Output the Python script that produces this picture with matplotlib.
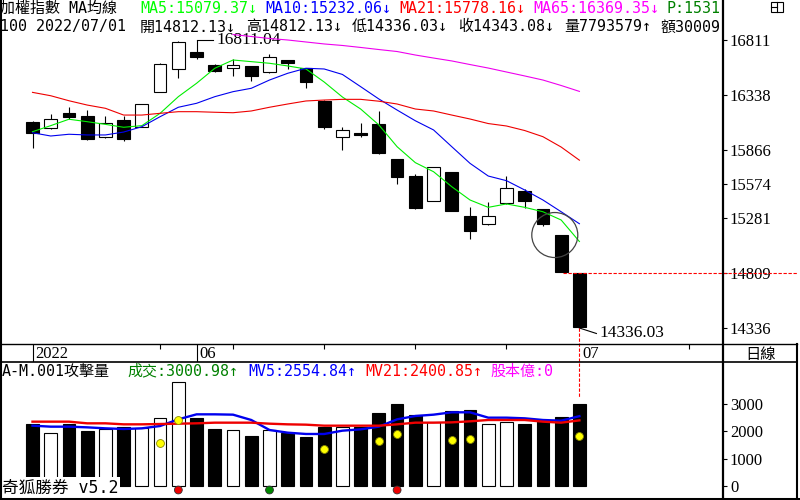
import matplotlib
matplotlib.use("Agg")
import matplotlib.pyplot as plt
from matplotlib.patches import Ellipse, Rectangle

plt.rcParams['font.family'] = ['DejaVu Sans Mono', 'Noto Sans CJK TC']
NUM_FONT = ['Liberation Serif', 'DejaVu Serif']

# ---- values, one entry per trading day (last = 2022/07/01) ----
opens = [16109, 16057, 16184, 16158, 15980, 16123, 16066, 16367, 16559, 16708,
         16596, 16568, 16588, 16533, 16639, 16568, 16289, 15975, 16012, 16089,
         15788, 15642, 15427, 15677, 15298, 15227, 15408, 15513, 15359, 15135, 14812.13]
highs = [16112, 16175, 16238, 16209, 16158, 16158, 16265, 16610, 16800, 16811.04,
         16605, 16645, 16590, 16691, 16642, 16570, 16292, 16061, 16095, 16201,
         15790, 15659, 15720, 15680, 15373, 15416, 15642, 15528, 15362, 15138, 14812.13]
lows = [15885, 16046, 16130, 15955, 15971, 15946, 16062, 16362, 16487, 16645,
        16540, 16504, 16461, 16530, 16559, 16401, 16046, 15866, 15980, 15835,
        15571, 15362, 15424, 15340, 15098, 15224, 15405, 15370, 15215, 14818, 14336.03]
closes = [16014, 16130, 16152, 15958, 16095, 15963, 16261, 16605, 16796, 16667,
          16547, 16596, 16504, 16665, 16616, 16453, 16066, 16038, 15995, 15837,
          15636, 15365, 15717, 15344, 15172, 15296, 15537, 15430, 15232, 14820, 14343.08]

ma5 = [16023, 16075, 16130, 16109, 16086, 16061, 16075, 16181, 16324, 16439,
       16568, 16639, 16625, 16611, 16588, 16562, 16450, 16321, 16218, 16081,
       15894, 15757, 15679, 15550, 15436, 15373, 15402, 15373, 15335, 15264, 15079.37]
ma10 = [16014, 15986, 16001, 15995, 15995, 16020, 16066, 16152, 16233, 16267,
        16324, 16367, 16396, 16467, 16525, 16568, 16562, 16515, 16410, 16304,
        16209, 16117, 16038, 15894, 15751, 15642, 15602, 15522, 15436, 15335, 15232.06]
ma21 = [16361, 16332, 16289, 16252, 16224, 16166, 16166, 16181, 16195, 16195,
        16190, 16186, 16201, 16233, 16261, 16287, 16295, 16301, 16301, 16285,
        16261, 16218, 16201, 16166, 16132, 16093, 16072, 16033, 15980, 15891, 15778.16]
ma65_from = 11   # earlier part is hidden under the header
ma65 = [16858, 16841, 16824, 16811, 16794, 16777, 16764, 16747, 16729, 16712,
        16682, 16656, 16631, 16600, 16570, 16536, 16502, 16467, 16420, 16369.35]

volume = [2268, 1927, 2268, 2012, 2085, 2171, 2134, 2476, 3794, 2476,
          2085, 2037, 1830, 2037, 1927, 1793, 2171, 2171, 2171, 2671,
          3000, 2598, 2329, 2744, 2781, 2268, 2329, 2268, 2415, 2525, 3000.98]
mv5 = [2207, 2171, 2171, 2146, 2110, 2085, 2110, 2195, 2439, 2622,
       2622, 2610, 2415, 2049, 1951, 1903, 1903, 2024, 2073, 2171,
       2439, 2561, 2610, 2696, 2696, 2500, 2500, 2476, 2415, 2390, 2554.84]
mv21 = [2354, 2354, 2354, 2293, 2293, 2256, 2256, 2268, 2280, 2293,
        2317, 2317, 2317, 2280, 2256, 2244, 2207, 2207, 2207, 2207,
        2256, 2317, 2317, 2329, 2366, 2415, 2415, 2415, 2354, 2317, 2400.85]
dot_idx = [7, 8, 16, 19, 20, 23, 24, 30]
dot_val = [1562, 2415, 1354, 1661, 1903, 1683, 1720, 1830]
mark_idx = [8, 13, 20]
mark_col = ['#ee0000', '#008800', '#ee0000']
mark_val = -146

month_idx = [0, 9, 30]
month_lab = ['2022', '06', '07']
week_idx = [7, 11, 16, 21, 26, 36]
price_ticks = [16811, 16338, 15866, 15574, 15281, 14809, 14336]
vol_ticks = [0, 1000, 2000, 3000]

hdr1 = [("加權指數 MA均線", "black", 0), ("MA5:15079.37↓", "#00ff00", 140),
        ("MA10:15232.06↓", "blue", 265), ("MA21:15778.16↓", "red", 399),
        ("MA65:16369.35↓", "magenta", 533), ("P:1531", "#008000", 667)]
hdr2 = [("100 2022/07/01", 0), ("開14812.13↓", 140), ("高14812.13↓", 246),
        ("低14336.03↓", 352), ("收14343.08↓", 458), ("量7793579↑", 564), ("額30009", 661)]
hdr3 = [("A-M.001攻擊量", "black", 2), ("成交:3000.98↑", "#008000", 127),
        ("MV5:2554.84↑", "blue", 248), ("MV21:2400.85↑", "red", 365),
        ("股本億:0", "magenta", 490)]

# ---- layout in pixels ----
W, H = 800, 500
SLOT = 18.23          # px between bars
X0 = 32.5             # px centre of first bar
PR = 723              # right edge of the plot panels
KP = 288 / 2475.0     # px per index point
KV = 82 / 3000.0      # px per volume unit


def box(x0, y0, x1, y1):
    return [x0 / W, 1 - y1 / H, (x1 - x0) / W, (y1 - y0) / H]


fig = plt.figure(figsize=(8, 5), dpi=100)
ax = fig.add_axes(box(0, 0, PR, 344))
axd = fig.add_axes(box(0, 344, PR, 362))
axv = fig.add_axes(box(0, 362, PR, 497))
for a in (ax, axd, axv):
    a.set_facecolor('none')
    a.set_xlim(-X0 / SLOT, (PR - X0) / SLOT)
    for s in a.spines.values():
        s.set_visible(False)
    a.set_xticks([])

ylo = 14336 - 16 / KP
ax.set_ylim(ylo, 16811 + 40 / KP)
axv.set_ylim(-11 / KV, 124 / KV)

idx = list(range(len(closes)))
fill = ['white' if c > o else 'black' for o, c in zip(opens, closes)]
bottoms = [min(o, c) for o, c in zip(opens, closes)]
heights = [max(abs(c - o), 8) for o, c in zip(opens, closes)]

# candles
ax.vlines(idx, lows, highs, color='black', lw=0.8, zorder=2)
ax.bar(idx, heights, 0.7, bottoms, color=fill, edgecolor='black', lw=0.8, zorder=3)

ax.plot(idx, ma5, color='#00ee00', lw=0.8, zorder=4)
ax.plot(idx, ma10, color='#0000ee', lw=0.8, zorder=4)
ax.plot(idx, ma21, color='#ee0000', lw=0.8, zorder=4)
ax.plot(idx[ma65_from:], ma65, color='#ee00ee', lw=0.8, zorder=4)

# high / low labels
hi = highs.index(max(highs))
ax.plot([hi, hi + 16 / SLOT], [highs[hi]] * 2, color='black', lw=0.8)
ax.text(hi + 20 / SLOT, highs[hi], f"{highs[hi]:.2f}", family=NUM_FONT, fontsize=12.5,
        va='center', ha='left')
lo = lows.index(min(lows))
ax.plot([lo, lo + 17 / SLOT], [lows[lo], lows[lo] - 5.5 / KP], color='black', lw=0.8)
ax.text(lo + 20 / SLOT, lows[lo] - 5.5 / KP, f"{lows[lo]:.2f}", family=NUM_FONT,
        fontsize=12.5, va='center', ha='left')

# highlight circle round the last two bars
ax.add_patch(Ellipse((28.65, opens[29]), 46 / SLOT, 45 / KP, fill=False,
                     ec='#444444', lw=0.9, zorder=6))

# crosshair on the last bar
last = len(closes) - 1
ax.plot([last - 0.9, (W - 3 - X0) / SLOT], [opens[last]] * 2, color='red', lw=0.8,
        ls=(0, (3, 1.5)), clip_on=False, zorder=7)
ax.plot([last, last], [lows[last], ylo - 54 / KP], color='red', lw=0.8,
        ls=(0, (3, 1.5)), clip_on=False, zorder=7)

ax.yaxis.tick_right()
ax.set_yticks(price_ticks)
ax.set_yticklabels([str(t) for t in price_ticks], family=NUM_FONT, fontsize=12)
ax.tick_params(axis='y', direction='out', length=3, width=0.8, pad=2)

# header lines
for txt, col, px in hdr1:
    ax.text(px / PR, 1 - 8.5 / 344, txt, color=col, fontsize=10.8, va='center',
            ha='left', transform=ax.transAxes, clip_on=True, zorder=8)
for txt, px in hdr2:
    ax.text(px / PR, 1 - 27 / 344, txt, color='black', fontsize=10.8, va='center',
            ha='left', transform=ax.transAxes, clip_on=True, zorder=8)

# date strip
axd.set_ylim(0, 1)
axd.set_yticks([])
axd.vlines(week_idx, 0.72, 1, color='black', lw=0.8)
axd.vlines(month_idx[:2], 0, 1, color='black', lw=0.8)
for i, lab in zip(month_idx, month_lab):
    axd.text(i + 2.5 / SLOT, 0.42, lab, family=NUM_FONT, fontsize=12, va='center', ha='left')

# volume panel
axv.bar(idx, volume, 0.7, color=fill, edgecolor='black', lw=0.8, zorder=2)
axv.plot(idx, mv5, color='#0000ee', lw=1.7, zorder=3)
axv.plot(idx, mv21, color='#ee0000', lw=1.7, zorder=3)
axv.scatter(dot_idx, dot_val, s=32, color='#ffff00', edgecolor='#888800', lw=0.6, zorder=4)
axv.scatter(mark_idx, [mark_val] * len(mark_idx), s=32, color=mark_col,
            edgecolor='#333333', lw=0.6, zorder=4, clip_on=False)
axv.yaxis.tick_right()
axv.set_yticks(vol_ticks)
axv.set_yticklabels([str(t) for t in vol_ticks], family=NUM_FONT, fontsize=12)
axv.tick_params(axis='y', direction='out', length=3, width=0.8, pad=2)
for txt, col, px in hdr3:
    axv.text(px / PR, 1 - 9 / 135, txt, color=col, fontsize=10.8, va='center',
             ha='left', transform=axv.transAxes, clip_on=True, zorder=8)
axv.text(2 / PR, 0.0, "奇狐勝券 v5.2", fontsize=12, va='bottom', ha='left',
         transform=axv.transAxes, zorder=9,
         bbox=dict(boxstyle='square,pad=0.1', fc='white', ec='none'))

# frame and right-hand panel, drawn in pixel space
ov = fig.add_axes([0, 0, 1, 1])
ov.set_xlim(0, W)
ov.set_ylim(H, 0)
ov.axis('off')
ov.plot([0.7, 0.7], [0, H], color='black', lw=1.5)
ov.plot([PR, PR], [0, 498], color='black', lw=1.6)
ov.plot([0, 797], [344, 344], color='black', lw=1)
ov.plot([0, 797], [362, 362], color='black', lw=1.2)
ov.plot([0, W], [498.5, 498.5], color='black', lw=2.2)
ov.plot([797, 797], [344, 498], color='black', lw=1.5)
ov.add_patch(Rectangle((771, 1.5), 12, 10, fill=False, ec='black', lw=0.8))
ov.plot([777, 777], [1.5, 11.5], color='black', lw=0.8)
ov.plot([771, 777], [6.5, 6.5], color='black', lw=0.8)
ov.text(761, 354, "日線", fontsize=11, ha='center', va='center')

fig.savefig("out.png", dpi=100)
